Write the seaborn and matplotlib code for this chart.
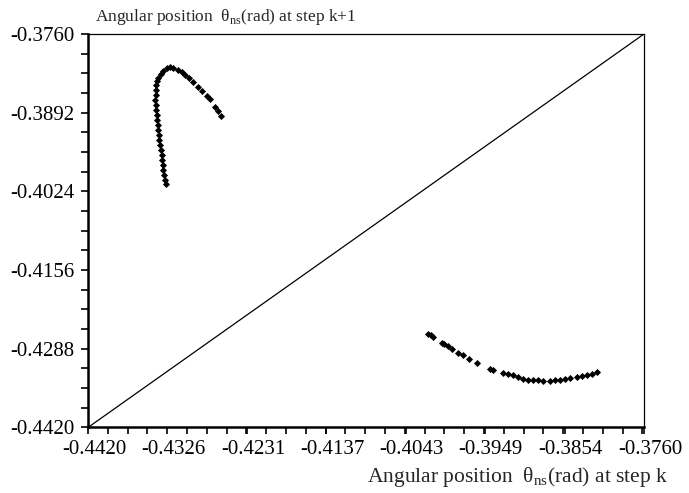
import numpy as np
import pandas as pd
import seaborn as sns
import matplotlib.pyplot as plt
import matplotlib.transforms as mtransforms
from matplotlib.ticker import FixedLocator, AutoMinorLocator

# upper-left branch (theta_k, theta_k+1)
branch1_x = [-0.43274, -0.43286, -0.43294, -0.43306, -0.43313, -0.43322, -0.43325,
             -0.43333, -0.43345, -0.43354, -0.43357, -0.43365, -0.43373, -0.43377,
             -0.43384, -0.43393, -0.43396, -0.43401, -0.43396, -0.43393, -0.43393,
             -0.43384, -0.43365, -0.43337, -0.43306, -0.43266, -0.43227, -0.43187,
             -0.43128, -0.43088, -0.43049, -0.42997, -0.42950, -0.42891, -0.42850,
             -0.42791, -0.42752, -0.42692, -0.42653, -0.42625]
branch1_y = [-0.40124, -0.40052, -0.39968, -0.39884, -0.39800, -0.39716, -0.39632,
             -0.39548, -0.39464, -0.39380, -0.39296, -0.39212, -0.39128, -0.39044,
             -0.38960, -0.38876, -0.38792, -0.38708, -0.38624, -0.38540, -0.38456,
             -0.38389, -0.38334, -0.38277, -0.38221, -0.38176, -0.38159, -0.38166,
             -0.38205, -0.38243, -0.38288, -0.38344, -0.38411, -0.38495, -0.38557,
             -0.38636, -0.38697, -0.38821, -0.38893, -0.38972]

# lower-right branch
branch2_x = [-0.40160, -0.40132, -0.40101, -0.40001, -0.39970, -0.39923, -0.39883,
             -0.39811, -0.39745, -0.39674, -0.39586, -0.39428, -0.39389, -0.39270,
             -0.39211, -0.39151, -0.39092, -0.39033, -0.38973, -0.38914, -0.38855,
             -0.38795, -0.38716, -0.38656, -0.38597, -0.38538, -0.38478, -0.38399,
             -0.38339, -0.38280, -0.38221, -0.38161]
branch2_y = [-0.42626, -0.42655, -0.42683, -0.42784, -0.42806, -0.42839, -0.42878,
             -0.42945, -0.42979, -0.43046, -0.43120, -0.43214, -0.43242, -0.43288,
             -0.43309, -0.43326, -0.43355, -0.43382, -0.43398, -0.43410, -0.43410,
             -0.43422, -0.43422, -0.43410, -0.43398, -0.43388, -0.43377, -0.43355,
             -0.43343, -0.43321, -0.43298, -0.43271]

diag = [-0.4420, -0.3760]
x_ticks = [-0.4420, -0.4326, -0.4231, -0.4137, -0.4043, -0.3949, -0.3854, -0.3760]
y_ticks = [-0.4420, -0.4288, -0.4156, -0.4024, -0.3892, -0.3760]

sns.set_theme(style="ticks")
plt.rcParams['font.family'] = ['Liberation Serif', 'DejaVu Serif']
plt.rcParams['mathtext.fontset'] = 'custom'
plt.rcParams['mathtext.rm'] = 'Liberation Serif'

df = pd.DataFrame({'x': branch1_x + branch2_x, 'y': branch1_y + branch2_y})

fig = plt.figure(figsize=(6.89, 4.93), dpi=100)
ax = fig.add_axes([0.1277, 0.1329, 0.8070, 0.7982])

sns.lineplot(x=diag, y=diag, ax=ax, color='black', linewidth=0.9)
sns.scatterplot(data=df, x='x', y='y', ax=ax, color='black', marker='D',
                s=13, linewidth=0)

ax.set_xlim(diag)
ax.set_ylim(diag)
ax.xaxis.set_major_locator(FixedLocator(x_ticks))
ax.yaxis.set_major_locator(FixedLocator(y_ticks))
ax.set_xticklabels([f"{v:.4f}" for v in x_ticks])
ax.set_yticklabels([f"{v:.4f}" for v in y_ticks])
ax.xaxis.set_minor_locator(AutoMinorLocator(4))
ax.yaxis.set_minor_locator(AutoMinorLocator(4))
ax.tick_params(which='both', direction='out', length=5, width=1.2,
               color='black', labelsize=15, labelcolor='black')
ax.tick_params(axis='x', which='both', pad=4)
ax.tick_params(axis='y', which='both', pad=5)
ax.tick_params(which='both', top=False, right=False)

# labels sit a few pixels right of their ticks in the original
shift = mtransforms.ScaledTranslation(6 / 100, 0, fig.dpi_scale_trans)
for lab in ax.get_xticklabels():
    lab.set_transform(lab.get_transform() + shift)

for side in ['top', 'right']:
    ax.spines[side].set_linewidth(0.9)
for side in ['left', 'bottom']:
    ax.spines[side].set_linewidth(1.8)
for sp in ax.spines.values():
    sp.set_color('black')

ax.set_xlabel('')
ax.set_ylabel('')
fig.text(0.138, 0.958, r'Angular position  θ$_{\mathrm{ns}}$(rad) at step k+1',
         fontsize=12.5, ha='left', va='baseline')
fig.text(0.970, 0.022, r'Angular position  θ$_{\mathrm{ns}}$(rad) at step k',
         fontsize=15.5, ha='right', va='baseline')

fig.savefig('out.png', dpi=100)
